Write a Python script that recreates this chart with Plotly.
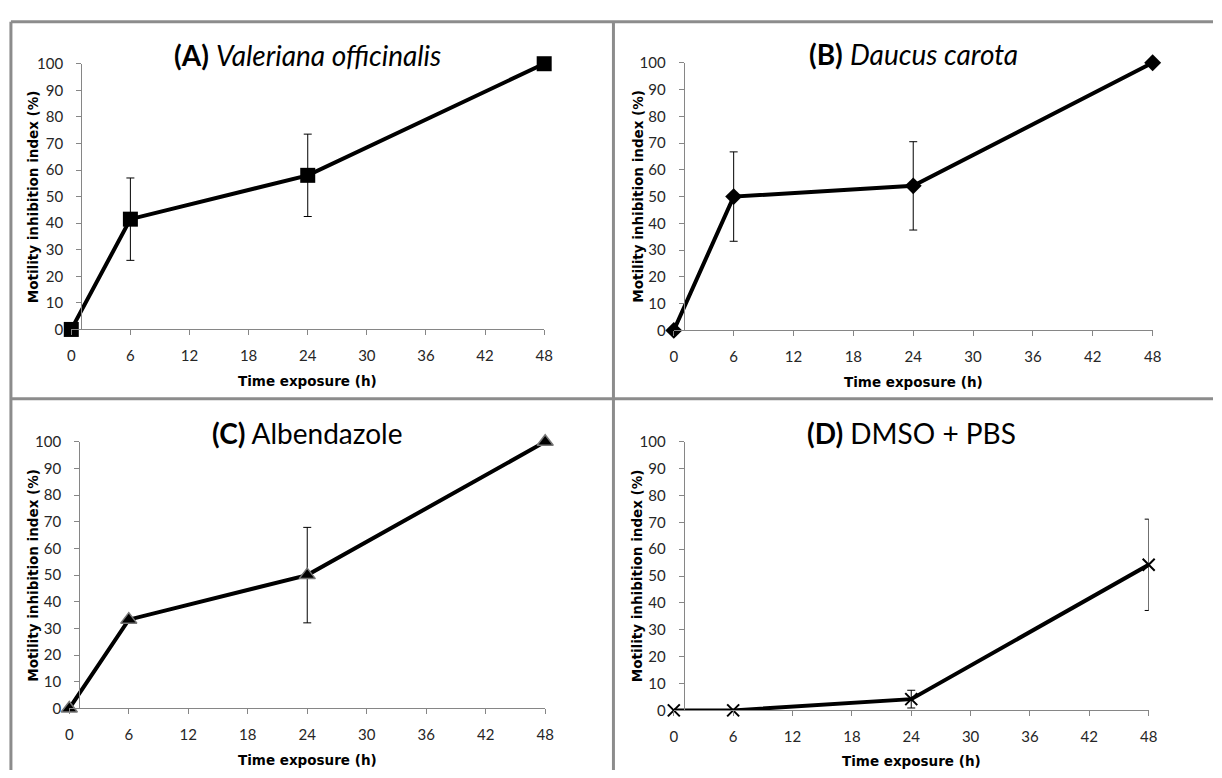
import plotly.graph_objects as go

W, H = 1222, 778

hours = [0, 6, 24, 48]
x_ticks = [0, 6, 12, 18, 24, 30, 36, 42, 48]
y_ticks = [0, 10, 20, 30, 40, 50, 60, 70, 80, 90, 100]

valeriana = [0, 41.5, 58, 100]
valeriana_err = [0, 15.5, 15.5, 0]
daucus = [0, 50, 54, 100]
daucus_err = [0, 16.7, 16.5, 0]
albendazole = [0, 33.3, 50, 100]
albendazole_err = [0, 0, 17.9, 0]
dmso = [0, 0, 4.2, 54.2]
dmso_err = [0, 0, 3.3, 17]

titles = [
    "<b>(A)</b> <i>Valeriana officinalis</i>",
    "<b>(B)</b> <i>Daucus carota</i>",
    "<b>(C)</b> Albendazole",
    "<b>(D)</b> DMSO + PBS",
]
x_title = "Time exposure (h)"
y_title = "Motility inhibition index (%)"

# panel plot areas in pixels: (x0, x1, ytop, ybottom)
panels = [
    (68, 546, 55, 327),
    (677, 1161, 54, 328),
    (66, 547, 442, 715),
    (677, 1157, 442, 717),
]
series = [
    (valeriana, valeriana_err, dict(symbol="square", size=15, color="black")),
    (daucus, daucus_err, dict(symbol="diamond", size=13, color="black")),
    (albendazole, albendazole_err,
     dict(symbol="triangle-up", size=14, color="black", line=dict(color="#777777", width=1.5))),
    (dmso, dmso_err, dict(symbol="x-thin", size=12, color="black", line=dict(color="black", width=2))),
]
xtitle_y = [380, 381, 768, 769]
ytitle_x = [29, 640, 29, 640]


def px(v):
    return v / W


def py(v):
    return 1 - v / H


fig = go.Figure()
annotations = []
axis_color = "#868686"
tick_font = dict(family="Lato", size=15, color="#262626")

for i, ((x0, x1, yt, yb), (vals, errs, mk)) in enumerate(zip(panels, series)):
    n = "" if i == 0 else str(i + 1)
    xa, ya = "x" + n, "y" + n
    fig.add_trace(go.Scatter(
        x=hours, y=vals, mode="lines+markers", xaxis=xa, yaxis=ya,
        line=dict(color="black", width=4), marker=mk, cliponaxis=False,
        error_y=dict(type="data", array=errs, visible=True, color="black", thickness=1, width=4),
        showlegend=False,
    ))
    fig.update_layout(**{
        "xaxis" + n: dict(domain=[px(x0), px(x1)], anchor=ya, range=[0, 48],
                          tickvals=x_ticks, showline=True, linecolor=axis_color, linewidth=1,
                          ticks="outside", ticklen=5, tickcolor=axis_color, showgrid=False,
                          zeroline=False, tickfont=tick_font, ticklabelstandoff=8),
        "yaxis" + n: dict(domain=[py(yb), py(yt)], anchor="free", position=px(x0 + 10),
                          range=[0, 100], tickvals=y_ticks, showline=True, linecolor=axis_color,
                          linewidth=1, ticks="outside", ticklen=5, tickcolor=axis_color,
                          showgrid=False, zeroline=False, tickfont=tick_font,
                          ticklabelstandoff=10),
    })
    annotations.append(dict(text=titles[i], x=px((x0 + x1) / 2), y=py(yt - 9), xref="paper",
                            yref="paper", showarrow=False, xanchor="center", yanchor="middle",
                            font=dict(family="Lato", size=28, color="black")))
    annotations.append(dict(text="<b>" + x_title + "</b>", x=px((x0 + x1) / 2), y=py(xtitle_y[i]),
                            xref="paper", yref="paper", showarrow=False, xanchor="center",
                            yanchor="middle", font=dict(family="DejaVu Sans", size=13.5, color="black")))
    annotations.append(dict(text="<b>" + y_title + "</b>", x=px(ytitle_x[i]), y=py((yt + yb) / 2),
                            xref="paper", yref="paper", showarrow=False, xanchor="center",
                            yanchor="middle", textangle=-90,
                            font=dict(family="DejaVu Sans", size=13.5, color="black")))

border = "#8c8c8c"
shapes = [
    dict(type="line", xref="paper", yref="paper", x0=px(7), x1=1, y0=py(12), y1=py(12),
         line=dict(color=border, width=3)),
    dict(type="line", xref="paper", yref="paper", x0=px(7), x1=px(7), y0=py(12), y1=0,
         line=dict(color=border, width=3)),
    dict(type="line", xref="paper", yref="paper", x0=px(616), x1=px(616), y0=py(12), y1=0,
         line=dict(color=border, width=3)),
    dict(type="line", xref="paper", yref="paper", x0=px(7), x1=1, y0=py(398), y1=py(398),
         line=dict(color=border, width=3)),
]

fig.update_layout(width=W, height=H, margin=dict(l=0, r=0, t=0, b=0),
                  paper_bgcolor="white", plot_bgcolor="white",
                  annotations=annotations, shapes=shapes)

fig.write_html("out.html", config={"displayModeBar": False},
               post_script="document.body.style.margin='0';document.body.style.overflow='hidden';")
